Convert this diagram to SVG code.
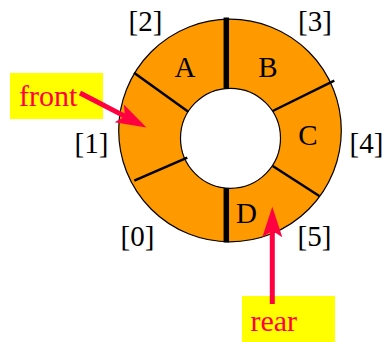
<svg xmlns="http://www.w3.org/2000/svg" width="387" height="342" viewBox="0 0 387 342">
<defs>
<style>
.lbl{font-family:"Liberation Serif","Times New Roman",serif;font-size:29px;fill:#000}
.red{font-family:"Liberation Serif","Times New Roman",serif;font-size:30px;fill:#ff0040}
.div{stroke:#000;stroke-width:2.5;fill:none}
.thick{stroke:#000;stroke-width:5.5;fill:none}
.box{fill:#ffff00}
.arr{stroke:#ff0040;stroke-width:5;fill:none;marker-end:url(#ah)}
</style>
<marker id="ah" markerUnits="userSpaceOnUse" markerWidth="40" markerHeight="40" viewBox="-10 -10 30 20" refX="0" refY="0" orient="auto">
<path d="M16,0 L-7,-7.5 L-2,0 L-7,7.5 Z" fill="#ff0040"/>
</marker>
</defs>
<rect width="387" height="342" fill="#fff"/>
<g id="ring">
<path d="M118.7,130.5 A111.3,111.3 0 1 0 341.3,130.5 A111.3,111.3 0 1 0 118.7,130.5 Z M180.5,138.3 A50,50 0 1 0 280.5,138.3 A50,50 0 1 0 180.5,138.3 Z" fill="#ff9900" fill-rule="evenodd" stroke="#000" stroke-width="1.2"/>
<line class="thick" x1="226.3" y1="17.5" x2="226.3" y2="88.5"/>
<line class="thick" x1="226.3" y1="188" x2="226.3" y2="242.5"/>
<line class="div" x1="134" y1="72.7" x2="188.3" y2="111.7"/>
<line class="div" x1="272.7" y1="111" x2="334.3" y2="80.7"/>
<line class="div" x1="134.3" y1="180.7" x2="187.3" y2="157.7"/>
<line class="div" x1="272.7" y1="166" x2="319.3" y2="196"/>
</g>
<g id="cellA"><text class="lbl" x="185" y="77" text-anchor="middle">A</text></g>
<g id="cellB"><text class="lbl" x="268" y="77" text-anchor="middle">B</text></g>
<g id="cellC"><text class="lbl" x="308" y="145" text-anchor="middle">C</text></g>
<g id="cellD"><text class="lbl" x="246.5" y="223" text-anchor="middle">D</text></g>
<g id="idx2"><text class="lbl" x="145.5" y="31" text-anchor="middle">[2]</text></g>
<g id="idx3"><text class="lbl" x="315" y="31" text-anchor="middle">[3]</text></g>
<g id="idx1"><text class="lbl" x="91.5" y="153" text-anchor="middle">[1]</text></g>
<g id="idx4"><text class="lbl" x="366.5" y="153" text-anchor="middle">[4]</text></g>
<g id="idx0"><text class="lbl" x="137.5" y="246" text-anchor="middle">[0]</text></g>
<g id="idx5"><text class="lbl" x="314.5" y="246" text-anchor="middle">[5]</text></g>
<g id="front">
<rect class="box" x="10" y="73" width="93" height="46"/>
<text class="red" x="19" y="106">front</text>
</g>
<g id="rear">
<rect class="box" x="242" y="296" width="93" height="46"/>
<text class="red" x="250.5" y="331">rear</text>
</g>
<g id="connectors">
<line class="arr" x1="80" y1="93" x2="127.5" y2="117.6"/>
<line class="arr" x1="272.3" y1="304" x2="272.3" y2="228"/>
</g>
</svg>
